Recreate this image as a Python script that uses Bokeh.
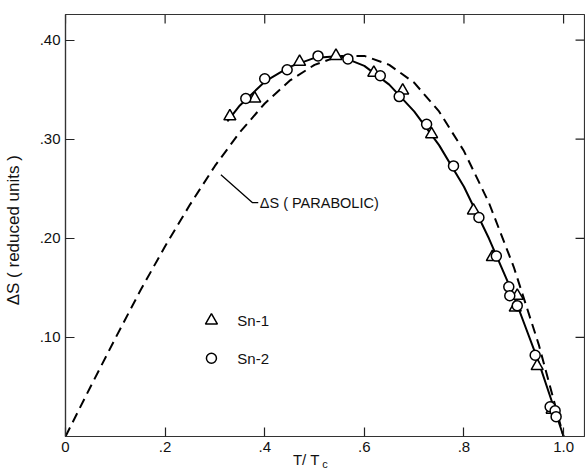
from bokeh.plotting import figure
from bokeh.models import FixedTicker, Label, Range1d, LinearAxis
from bokeh.embed import file_html
from bokeh.resources import INLINE

# Sn-1 (triangles)
sn1_t = [0.330, 0.380, 0.470, 0.543, 0.619, 0.677, 0.735, 0.819, 0.857, 0.907, 0.903, 0.947, 0.977]
sn1_s = [0.323, 0.341, 0.378, 0.384, 0.367, 0.349, 0.305, 0.228, 0.181, 0.142, 0.130, 0.071, 0.027]
# Sn-2 (circles)
sn2_t = [0.362, 0.400, 0.445, 0.507, 0.567, 0.632, 0.670, 0.725, 0.779, 0.830, 0.865, 0.890, 0.892, 0.907, 0.943, 0.973, 0.983, 0.985]
sn2_s = [0.341, 0.361, 0.370, 0.384, 0.381, 0.364, 0.343, 0.315, 0.273, 0.221, 0.182, 0.151, 0.142, 0.132, 0.082, 0.030, 0.026, 0.020]
# smooth experimental curve (solid)
fit_t = [0.325, 0.35, 0.40, 0.45, 0.50, 0.55, 0.60, 0.65, 0.70, 0.75, 0.80, 0.85, 0.90, 0.95, 0.98, 1.00]
fit_s = [0.318, 0.334, 0.358, 0.373, 0.382, 0.384, 0.374, 0.355, 0.328, 0.294, 0.252, 0.200, 0.142, 0.075, 0.030, 0.000]
# parabolic curve (dashed)
par_t = [0.0, 0.05, 0.10, 0.15, 0.20, 0.25, 0.30, 0.35, 0.40, 0.45, 0.50, 0.55, 0.60, 0.65, 0.70, 0.75, 0.80, 0.85, 0.90, 0.95, 1.00]
par_s = [0.0, 0.050, 0.099, 0.147, 0.192, 0.234, 0.273, 0.307, 0.336, 0.359, 0.375, 0.384, 0.384, 0.375, 0.357, 0.328, 0.288, 0.236, 0.171, 0.093, 0.0]

x_ticks = [0.0, 0.2, 0.4, 0.6, 0.8, 1.0]
x_tick_labels = ["0", ".2", ".4", ".6", ".8", "1.0"]
y_ticks = [0.1, 0.2, 0.3, 0.4]
y_tick_labels = [".10", ".20", ".30", ".40"]

leader_t = [0.312, 0.375, 0.387]
leader_s = [0.264, 0.236, 0.236]

X_END = 1.042
Y_END = 0.4258
FONT = "Liberation Sans"
INK = "#111111"
NBSP = "\u00a0"

p = figure(width=585, height=472, output_backend="svg", toolbar_location=None,
           x_range=Range1d(0, X_END), y_range=Range1d(0, Y_END),
           min_border_left=63, min_border_right=1, min_border_top=14, min_border_bottom=36)
p.background_fill_color = "white"
p.border_fill_color = "white"
p.grid.visible = False
p.outline_line_color = "#333333"
p.outline_line_width = 1.2

def style_axis(ax, ticks, labels):
    ax.ticker = FixedTicker(ticks=ticks)
    ax.major_label_overrides = {t: l for t, l in zip(ticks, labels)}
    ax.major_tick_in = 9
    ax.major_tick_out = 0
    ax.minor_tick_line_color = None
    ax.major_tick_line_color = "#222222"
    ax.major_tick_line_width = 1.2
    ax.axis_line_color = "#333333"
    ax.axis_line_width = 1.2
    ax.major_label_text_font = FONT
    ax.major_label_text_font_size = "15px"
    ax.major_label_text_color = INK

style_axis(p.xaxis[0], x_ticks, x_tick_labels)
p.xaxis[0].major_label_standoff = 5
# x axis title "T/ T" (padded so that it sits left of the centred subscript)
p.xaxis[0].axis_label = "T/ T" + NBSP * 9
p.xaxis[0].axis_label_text_font = FONT
p.xaxis[0].axis_label_text_font_style = "normal"
p.xaxis[0].axis_label_text_font_size = "15px"
p.xaxis[0].axis_label_text_color = INK
p.xaxis[0].axis_label_standoff = -4

# subscript "c" carried by a bare second bottom axis
sub_axis = LinearAxis(ticker=FixedTicker(ticks=[]), axis_line_color=None,
                      major_tick_line_color=None, minor_tick_line_color=None,
                      major_tick_out=0, major_tick_in=0, minor_tick_out=0, minor_tick_in=0,
                      major_label_standoff=0)
sub_axis.axis_label = "c"
sub_axis.axis_label_text_font = FONT
sub_axis.axis_label_text_font_style = "normal"
sub_axis.axis_label_text_font_size = "11px"
sub_axis.axis_label_text_color = INK
sub_axis.axis_label_standoff = -13
p.add_layout(sub_axis, "below")

style_axis(p.yaxis[0], y_ticks, y_tick_labels)
p.yaxis[0].major_label_standoff = 5
p.yaxis[0].axis_label = "ΔS  ( reduced  units )"
p.yaxis[0].axis_label_text_font = FONT
p.yaxis[0].axis_label_text_font_style = "normal"
p.yaxis[0].axis_label_text_font_size = "17px"
p.yaxis[0].axis_label_text_color = INK
p.yaxis[0].axis_label_standoff = 14

# inward ticks on the top and right frame edges
tick_dy = 0.0091
tick_dx = 0.018
p.segment(x0=x_ticks, y0=[Y_END] * len(x_ticks), x1=x_ticks, y1=[Y_END - tick_dy] * len(x_ticks),
          line_color="#222222", line_width=1.2)
p.segment(x0=[X_END] * len(y_ticks), y0=y_ticks, x1=[X_END - tick_dx] * len(y_ticks), y1=y_ticks,
          line_color="#222222", line_width=1.2)

# curves
p.line(par_t, par_s, line_color="black", line_width=2, line_dash="10 6")
p.line(fit_t, fit_s, line_color="black", line_width=2)

# data
p.scatter(sn1_t, sn1_s, marker="triangle", size=12, fill_color="white",
          line_color="black", line_width=1.5)
p.scatter(sn2_t, sn2_s, marker="circle", size=10, fill_color="white",
          line_color="black", line_width=1.5)

# annotation leader
p.line(leader_t, leader_s, line_color="black", line_width=1.3)
p.add_layout(Label(x=0.39, y=0.236, text="ΔS ( PARABOLIC)", text_font=FONT,
                   text_font_size="14.5px", text_baseline="middle", text_align="left",
                   text_color=INK))

# legend
p.scatter([0.293], [0.117], marker="triangle", size=12, fill_color="white",
          line_color="black", line_width=1.5)
p.scatter([0.293], [0.079], marker="circle", size=10, fill_color="white",
          line_color="black", line_width=1.5)
p.add_layout(Label(x=0.345, y=0.117, text="Sn-1", text_font=FONT, text_font_size="15px",
                   text_baseline="middle", text_color=INK))
p.add_layout(Label(x=0.345, y=0.079, text="Sn-2", text_font=FONT, text_font_size="15px",
                   text_baseline="middle", text_color=INK))

open("out.html", "w").write(file_html(p, INLINE))
